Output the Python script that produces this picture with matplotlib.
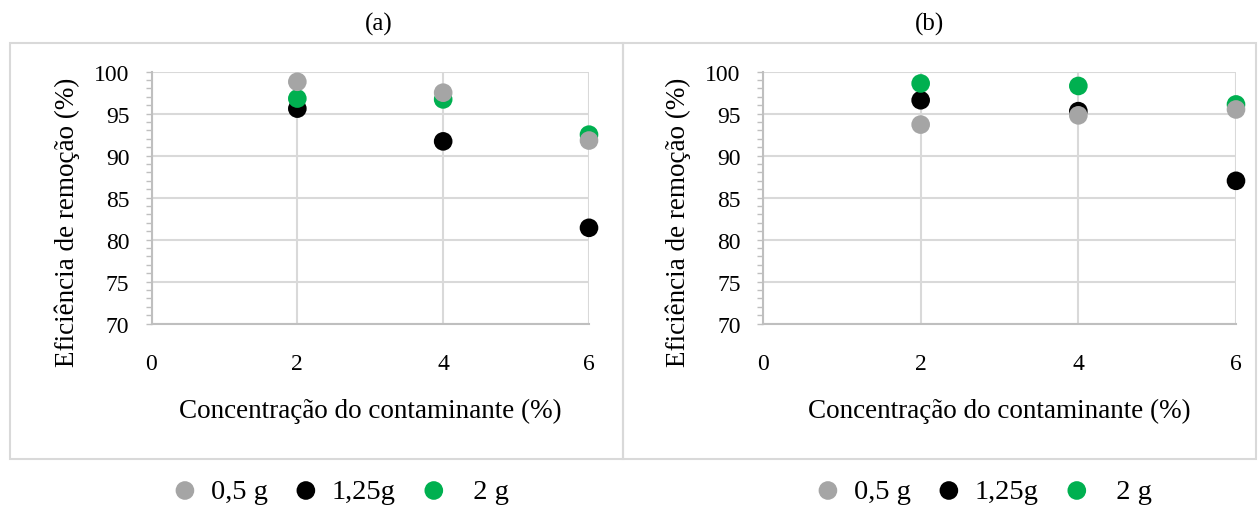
import matplotlib
matplotlib.use("Agg")
import matplotlib.pyplot as plt
from matplotlib.patches import Rectangle
from matplotlib.ticker import MultipleLocator

# 字体: Times New Roman 的替代
matplotlib.rcParams['font.family'] = ['Liberation Serif', 'DejaVu Serif']

# 数据
concentracao = [2, 4, 6]
series_labels = ["0,5 g", "1,25g", "  2 g"]
series_colors = ["#A5A5A5", "#000000", "#00B050"]
series_z = [4, 2, 3]

# (a)
a_05 = [98.8, 97.5, 91.8]
a_125 = [95.6, 91.7, 81.4]
a_2 = [96.8, 96.7, 92.5]

# (b)
b_05 = [93.7, 94.8, 95.5]
b_125 = [96.6, 95.3, 87.0]
b_2 = [98.6, 98.3, 96.1]

panel_titles = ["(a)", "(b)"]
xlabel = "Concentração do contaminante (%)"
ylabel = "Eficiência de remoção (%)"

W, H = 1258, 506
fig = plt.figure(figsize=(W / 100, H / 100), dpi=100)

grid_c = "#D9D9D9"
axis_c = "#BFBFBF"


def draw_panel(rect, series, title, title_x, legend_x, ylab_x):
    ax = fig.add_axes(rect)
    for vals, lab, col, z in zip(series, series_labels, series_colors, series_z):
        ax.scatter(concentracao, vals, s=180, color=col, label=lab, zorder=z,
                   edgecolors="none", clip_on=False)
    ax.set_xlim(0, 6)
    ax.set_ylim(70, 100)
    ax.set_xticks([0, 2, 4, 6])
    ax.yaxis.set_major_locator(MultipleLocator(5))
    ax.yaxis.set_minor_locator(MultipleLocator(1))
    ax.grid(True, which="major", color=grid_c, lw=1.5, zorder=0)
    ax.set_axisbelow(True)
    for s in ["top", "right"]:
        ax.spines[s].set_visible(False)
    for s in ["left", "bottom"]:
        ax.spines[s].set_color(axis_c)
        ax.spines[s].set_linewidth(1.5)
    ax.tick_params(axis="x", length=0, pad=21, labelsize=17)
    ax.tick_params(axis="y", which="both", length=4, color=axis_c, width=1,
                   pad=12, labelsize=17)
    ax.set_xlabel(xlabel, fontsize=19.5, va="center")
    ax.xaxis.set_label_coords(0.5, -0.3435)
    ax.set_ylabel(ylabel, fontsize=19.5, va="center")
    ax.yaxis.set_label_coords(ylab_x, 0.407)
    fig.text(title_x / W, 1 - 24 / H, title, fontsize=18, ha="center", va="center")
    fig.legend(*ax.get_legend_handles_labels(), loc="center",
               bbox_to_anchor=(legend_x / W, 1 - 492 / H), ncol=3, frameon=False,
               fontsize=20.5, handlelength=1.0, handletextpad=0.4,
               columnspacing=0.85, borderpad=0)
    return ax


# 两个面板的外框
fig.add_artist(Rectangle((10 / W, 1 - 460 / H), 613 / W, 416 / H, transform=fig.transFigure,
                         fill=False, edgecolor=grid_c, lw=1.5))
fig.add_artist(Rectangle((623 / W, 1 - 460 / H), 633 / W, 416 / H, transform=fig.transFigure,
                         fill=False, edgecolor=grid_c, lw=1.5))

y0 = 1 - 324.5 / H
hh = 251.8 / H
draw_panel([151.5 / W, y0, 437.5 / W, hh], [a_05, a_125, a_2], panel_titles[0], 379, 340, -0.193)
draw_panel([763 / W, y0, 473 / W, hh], [b_05, b_125, b_2], panel_titles[1], 930, 983, -0.18)

fig.savefig("out.png", dpi=100)
